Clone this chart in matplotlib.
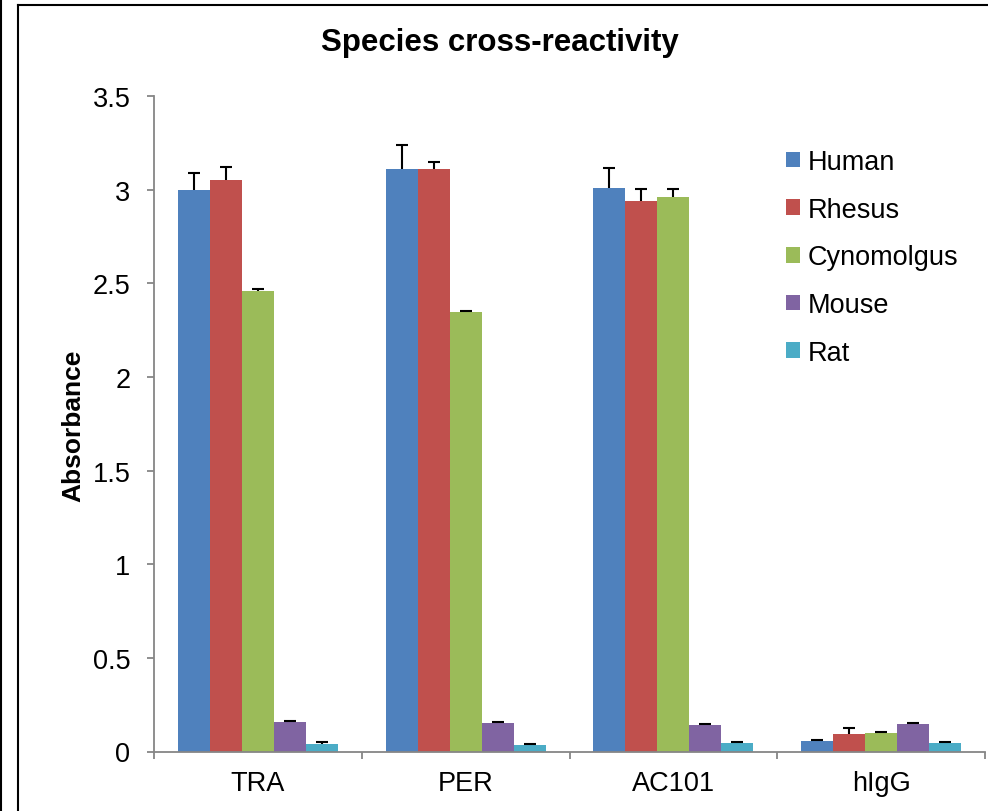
import matplotlib
matplotlib.use('Agg')
import matplotlib.pyplot as plt
from matplotlib.lines import Line2D
import numpy as np

plt.rcParams['font.family'] = ['Liberation Sans', 'DejaVu Sans']

categories = ['TRA', 'PER', 'AC101', 'hIgG']
species = ['Human', 'Rhesus', 'Cynomolgus', 'Mouse', 'Rat']
colors = ['#4F81BD', '#C0504D', '#9BBB59', '#8064A2', '#4BACC6']

# mean absorbance per species, one value per category
human = [3.00, 3.11, 3.01, 0.057]
rhesus = [3.05, 3.11, 2.94, 0.091]
cyno = [2.46, 2.345, 2.96, 0.099]
mouse = [0.155, 0.150, 0.143, 0.145]
rat = [0.042, 0.036, 0.047, 0.046]

# upper error (SD)
human_err = [0.09, 0.13, 0.105, 0.007]
rhesus_err = [0.07, 0.04, 0.065, 0.036]
cyno_err = [0.008, 0.006, 0.045, 0.007]
mouse_err = [0.007, 0.006, 0.004, 0.008]
rat_err = [0.007, 0.003, 0.004, 0.003]

values = [human, rhesus, cyno, mouse, rat]
errors = [human_err, rhesus_err, cyno_err, mouse_err, rat_err]

fig = plt.figure(figsize=(9.88, 8.12), dpi=100)
ax = fig.add_axes([154/988, 1 - 752.5/812, (985 - 154)/988, (752.5 - 97)/812])

x = np.arange(len(categories))
w = 1 / 6.5
cap = 0.029
for i, (vals, errs) in enumerate(zip(values, errors)):
    pos = x - 2 * w + i * w
    vals = np.array(vals)
    tops = vals + np.array(errs)
    ax.bar(pos, vals, width=w, color=colors[i], label=species[i], zorder=2)
    # upper-only error bars, Excel style
    ax.vlines(pos, vals, tops, color='black', lw=1.5, zorder=3)
    ax.hlines(tops, pos - cap, pos + cap, color='black', lw=1.5, zorder=3)

ax.set_xlim(-0.5, 3.5)
ax.set_ylim(0, 3.5)
ax.set_yticks(np.arange(0, 3.51, 0.5))
ax.set_yticklabels(['0', '0.5', '1', '1.5', '2', '2.5', '3', '3.5'])
ax.set_xticks(np.arange(-0.5, 3.6, 1))
ax.set_xticklabels([])
ax.set_xticks(x, minor=True)
ax.set_xticklabels(categories, minor=True)

grey = '#868686'
for s in ['top', 'right']:
    ax.spines[s].set_visible(False)
for s in ['left', 'bottom']:
    ax.spines[s].set_color(grey)
    ax.spines[s].set_linewidth(1.3)
ax.tick_params(axis='both', which='major', direction='out', length=5,
               width=1.3, color=grey, labelsize=19.5)
ax.tick_params(axis='y', pad=12)
ax.tick_params(axis='x', which='minor', length=0, labelsize=19.5, pad=13)

fig.text(500/988, 1 - 43/812, 'Species cross-reactivity', ha='center', va='center',
         fontsize=22.5, fontweight='bold')
fig.text(73/988, 1 - 426/812, 'Absorbance', ha='center', va='center',
         rotation=90, fontsize=19, fontweight='bold')

ax.legend(loc='upper left', bbox_to_anchor=(786/988, 1 - 150/812),
          bbox_transform=fig.transFigure, frameon=False, fontsize=19.5,
          borderpad=0, borderaxespad=0, handlelength=0.52, handleheight=0.52,
          handletextpad=0.27, labelspacing=0.8)

# outer frame lines
fig.add_artist(Line2D([1/988, 1/988], [0, 1], color='black', lw=1.5))
fig.add_artist(Line2D([18/988, 18/988], [0, 1 - 6/812], color='black', lw=1.5))
fig.add_artist(Line2D([18/988, 1], [1 - 6/812, 1 - 6/812], color='black', lw=1.5))

fig.savefig('out.png', dpi=100)
